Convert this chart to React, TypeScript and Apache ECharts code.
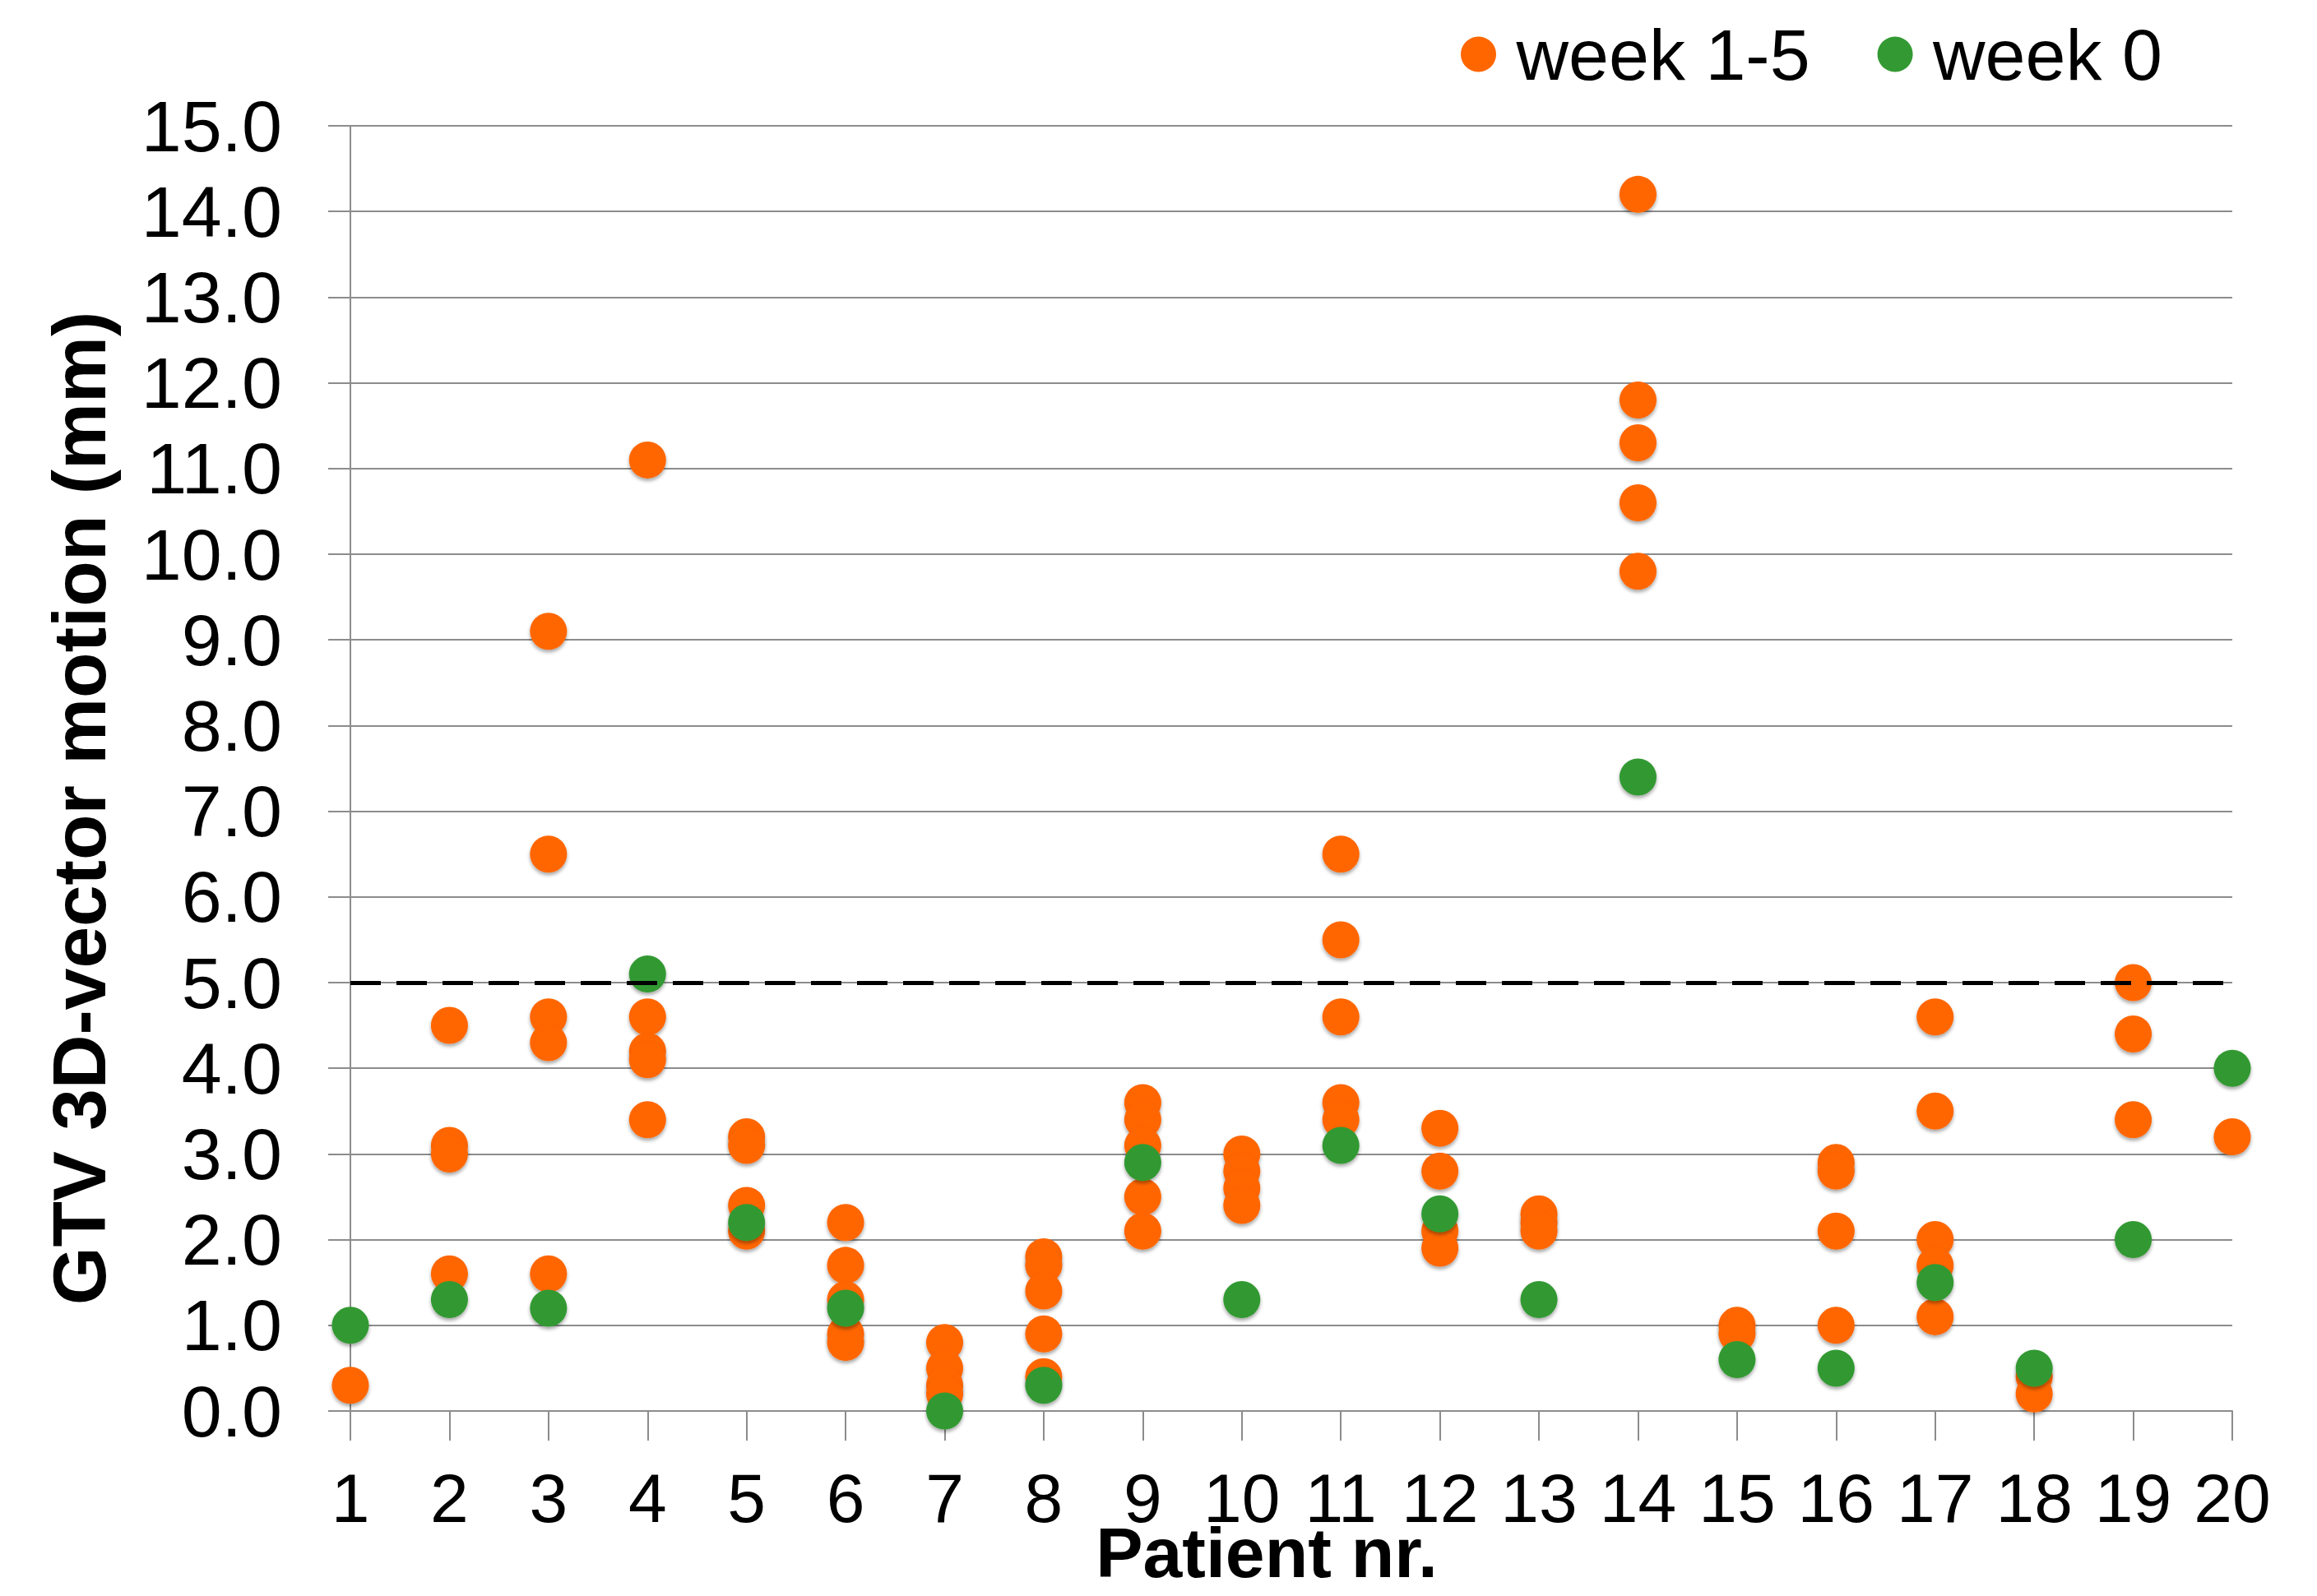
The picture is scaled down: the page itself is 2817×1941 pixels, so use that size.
import React, { useEffect, useRef } from "react";
import * as echarts from "echarts";

const patients = [1, 2, 3, 4, 5, 6, 7, 8, 9, 10, 11, 12, 13, 14, 15, 16, 17, 18, 19, 20];

// week 1-5 measurements per patient
const week15Values: number[][] = [
  [0.3],
  [4.5, 3.1, 3.0, 1.6],
  [9.1, 6.5, 4.6, 4.3, 1.6],
  [11.1, 4.6, 4.2, 4.1, 3.4],
  [3.2, 3.1, 2.4, 2.1],
  [2.2, 1.7, 1.3, 0.9, 0.8],
  [0.8, 0.5, 0.3, 0.2],
  [1.8, 1.7, 1.4, 0.9, 0.4],
  [3.6, 3.4, 3.1, 2.5, 2.1],
  [3.0, 2.8, 2.6, 2.4],
  [6.5, 5.5, 4.6, 3.6, 3.4],
  [3.3, 2.8, 2.1, 1.9],
  [2.3, 2.2, 2.1],
  [14.2, 11.8, 11.3, 10.6, 9.8],
  [1.0, 0.9],
  [2.9, 2.8, 2.1, 1.0],
  [4.6, 3.5, 2.0, 1.7, 1.1],
  [0.4, 0.2],
  [5.0, 4.4, 3.4],
  [3.2],
];

// week 0 measurement per patient
const week0Values = [1.0, 1.3, 1.2, 5.1, 2.2, 1.2, 0.0, 0.3, 2.9, 1.3, 3.1, 2.3, 1.3, 7.4, 0.6, 0.5, 1.5, 0.5, 2.0, 4.0];

const seriesNames = ["week 1-5", "week 0"];
const thresholdValue = 5.0;
const yTitle = "GTV 3D-vector motion (mm)";
const xTitle = "Patient nr.";

const ORANGE = "#FF6600";
const GREEN = "#339933";
const FONT = "Arial, 'Liberation Sans', Helvetica, sans-serif";

export default function App() {
  const ref = useRef<HTMLDivElement>(null);

  useEffect(() => {
    if (!ref.current) return;
    const chart = echarts.init(ref.current, undefined, { renderer: "svg" });

    const orangeData: number[][] = [];
    patients.forEach((p, i) => {
      week15Values[i].forEach((v) => orangeData.push([p, v]));
    });
    const greenData = patients.map((p, i) => [p, week0Values[i]]);

    const shadow = {
      shadowBlur: 4,
      shadowColor: "rgba(0,0,0,0.35)",
      shadowOffsetY: 3,
    };

    chart.setOption({
      animation: false,
      backgroundColor: "#ffffff",
      textStyle: { fontFamily: FONT },
      grid: { left: 426, right: 103, top: 153, bottom: 225, containLabel: false },
      legend: {
        data: seriesNames,
        left: 1771,
        top: 17,
        icon: "circle",
        itemWidth: 82,
        itemHeight: 43,
        itemGap: 82,
        textStyle: { fontSize: 88, color: "#000", fontFamily: FONT },
      },
      xAxis: {
        type: "value",
        min: 1,
        max: 20,
        interval: 1,
        axisLine: { show: true, lineStyle: { color: "#8c8c8c", width: 2 } },
        axisTick: { show: true, length: 36, lineStyle: { color: "#8c8c8c", width: 2 } },
        axisLabel: { fontSize: 84, lineHeight: 64, color: "#000", margin: 74, fontFamily: FONT },
        splitLine: { show: false },
      },
      yAxis: {
        type: "value",
        min: 0,
        max: 15,
        interval: 1,
        axisLine: { show: true, lineStyle: { color: "#8c8c8c", width: 2 } },
        axisTick: { show: true, length: 27, lineStyle: { color: "#8c8c8c", width: 2 } },
        axisLabel: {
          fontSize: 88,
          color: "#000",
          margin: 83,
          fontFamily: FONT,
          formatter: (v: number) => v.toFixed(1),
        },
        splitLine: { show: true, lineStyle: { color: "#8c8c8c", width: 2 } },
      },
      graphic: [
        {
          type: "text",
          x: 96,
          y: 983,
          rotation: Math.PI / 2,
          style: {
            text: yTitle,
            font: `bold 91px ${FONT}`,
            fill: "#000",
            textAlign: "center",
            textVerticalAlign: "middle",
          },
        },
        {
          type: "text",
          x: 1540,
          y: 1888,
          style: {
            text: xTitle,
            font: `bold 86px ${FONT}`,
            lineHeight: 64,
            fill: "#000",
            textAlign: "center",
            textVerticalAlign: "middle",
          },
        },
      ],
      series: [
        {
          name: seriesNames[0],
          type: "scatter",
          symbol: "circle",
          symbolSize: 45,
          data: orangeData,
          itemStyle: { color: ORANGE, opacity: 1, ...shadow },
          markLine: {
            silent: true,
            symbol: ["none", "none"],
            label: { show: false },
            lineStyle: { color: "#000", width: 5, type: [37, 19], opacity: 1 },
            data: [{ yAxis: thresholdValue }],
          },
          z: 2,
        },
        {
          name: seriesNames[1],
          type: "scatter",
          symbol: "circle",
          symbolSize: 45,
          data: greenData,
          itemStyle: { color: GREEN, opacity: 1, ...shadow },
          z: 3,
        },
      ],
    });

    return () => chart.dispose();
  }, []);

  return (
    <div
      ref={ref}
      style={{ position: "fixed", left: 0, top: 0, width: 2817, height: 1941, background: "#fff" }}
    />
  );
}
